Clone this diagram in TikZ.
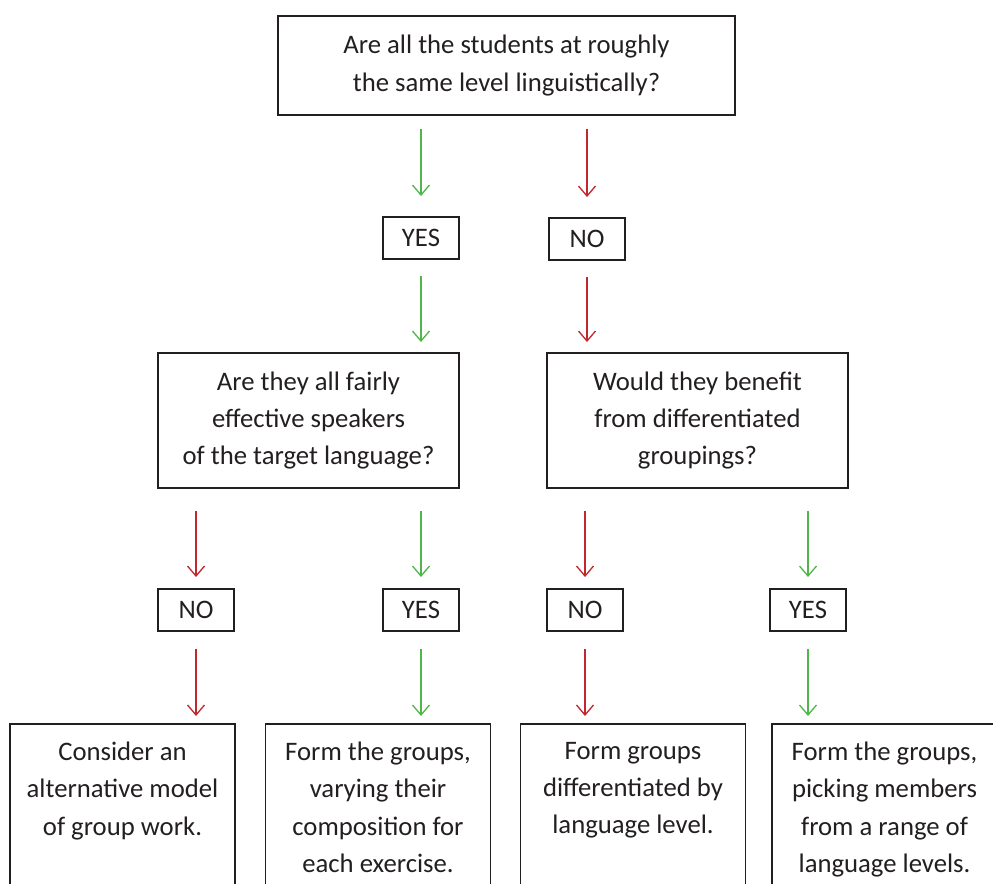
\documentclass[tikz,border=0pt]{standalone}
\usepackage{fontspec}
\setmainfont{Carlito}
\usetikzlibrary{arrows.meta,positioning}
\definecolor{yesgreen}{HTML}{4FB74A}
\definecolor{nored}{HTML}{C1272D}
\definecolor{inkgrey}{HTML}{231F20}
\newcommand{\qfont}{\fontsize{15.2}{21.3}\selectfont}
\newcommand{\toplines}[1]{\parbox[t][4.2cm][t]{4.5cm}{\centering #1}}
\tikzset{
  qbox/.style={draw=inkgrey, line width=1.1pt, text=inkgrey, align=center,
               inner sep=0pt, font=\qfont},
  ans/.style={qbox, minimum width=1.52cm, minimum height=0.84cm},
  endbox/.style={draw=inkgrey, line width=1.1pt, text=inkgrey, anchor=north,
                 inner xsep=0pt, inner ysep=0.36cm, font=\qfont},
  yflow/.style={-{Straight Barb[length=2mm,width=3.4mm]}, line width=0.75pt,
                draw=yesgreen},
  nflow/.style={-{Straight Barb[length=2mm,width=3.4mm]}, line width=0.75pt,
                draw=nored},
}

\begin{document}
\begin{tikzpicture}[x=0.02cm, y=-0.02cm]
\clip (0,0) rectangle (993,884);

% ========================= question 1 ====================================
\node[qbox, minimum width=9.14cm, minimum height=1.98cm] at (506.5, 65.5) (q1)
  {Are all the students at roughly\\the same level linguistically?};
\node[ans] at (421, 238) (yesA) {YES};
\node[ans] at (587, 239) (noA)  {NO};

\draw[yflow, shorten <=0.26cm, shorten >=0.4cm] (q1.south -| yesA) -- (yesA.north);
\draw[nflow, shorten <=0.26cm, shorten >=0.4cm] (q1.south -| noA)  -- (noA.north);

% ========================= questions 2 and 3 =============================
\node[qbox, minimum width=6.02cm, minimum height=2.7cm] at (308.5, 420.5) (q2)
  {Are they all fairly\\effective speakers\\of the target language?};
\node[qbox, minimum width=6.02cm, minimum height=2.7cm] at (697.5, 420.5) (q3)
  {Would they benefit\\from differentiated\\groupings?};

\draw[yflow, shorten <=0.32cm, shorten >=0.2cm] (yesA.south) -- (yesA |- q2.north);
\draw[nflow, shorten <=0.32cm, shorten >=0.2cm] (noA.south)  -- (noA |- q3.north);

% ========================= second answers ================================
\node[ans] at (196, 610) (noB)  {NO};
\node[ans] at (421, 610) (yesB) {YES};
\node[ans] at (585, 610) (noC)  {NO};
\node[ans] at (808, 610) (yesC) {YES};

\draw[nflow, shorten <=0.44cm, shorten >=0.22cm] (q2.south -| noB)  -- (noB.north);
\draw[yflow, shorten <=0.44cm, shorten >=0.22cm] (q2.south -| yesB) -- (yesB.north);
\draw[nflow, shorten <=0.44cm, shorten >=0.22cm] (q3.south -| noC)  -- (noC.north);
\draw[yflow, shorten <=0.44cm, shorten >=0.22cm] (q3.south -| yesC) -- (yesC.north);

% ========================= outcomes ======================================
\node[endbox] at (122.5, 723) (endA)
  {\toplines{Consider an\\alternative model\\of group work.}};
\node[endbox] at (378, 723)   (endB)
  {\toplines{Form the groups,\\varying their\\composition for\\each exercise.}};
\node[endbox] at (633, 723)   (endC)
  {\toplines{Form groups\\differentiated by\\language level.}};
\node[endbox] at (884.5, 723) (endD)
  {\toplines{Form the groups,\\picking members\\from a range of\\language levels.}};

\draw[nflow, shorten <=0.34cm, shorten >=0.14cm] (noB.south)  -- (noB |- endA.north);
\draw[yflow, shorten <=0.34cm, shorten >=0.14cm] (yesB.south) -- (yesB |- endB.north);
\draw[nflow, shorten <=0.34cm, shorten >=0.14cm] (noC.south)  -- (noC |- endC.north);
\draw[yflow, shorten <=0.34cm, shorten >=0.14cm] (yesC.south) -- (yesC |- endD.north);
\end{tikzpicture}
\end{document}
